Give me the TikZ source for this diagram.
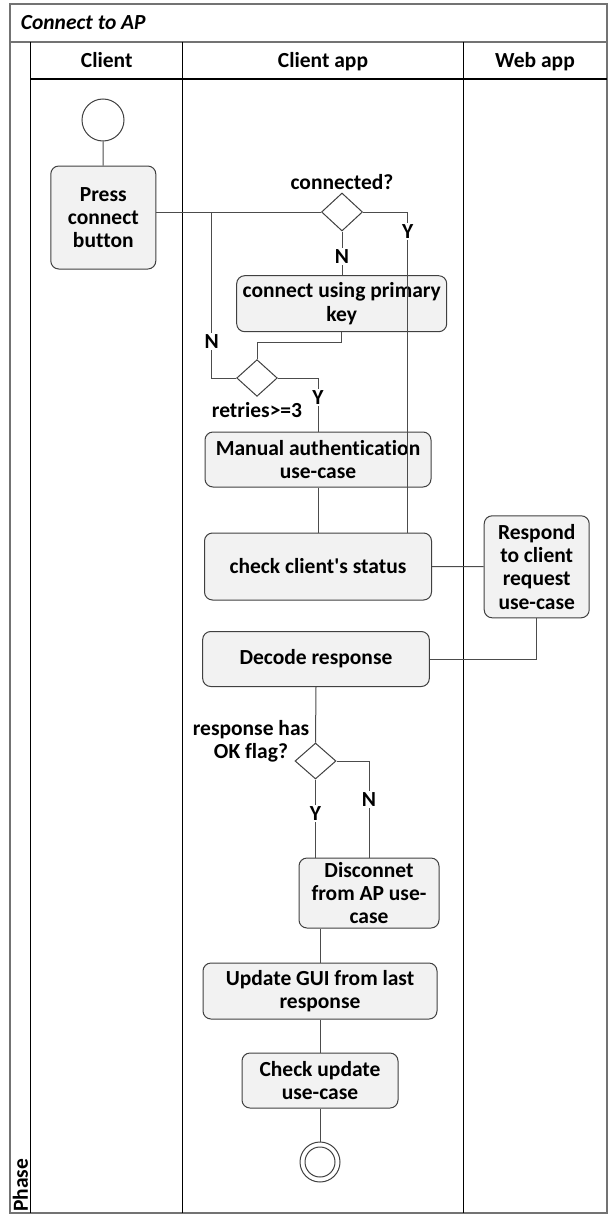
\documentclass[tikz,border=0pt]{standalone}
\usepackage{fontspec}
\setmainfont{Carlito}[Ligatures={NoCommon}]
\usepackage{tikz}
\usetikzlibrary{positioning,calc,shapes}

\begin{document}
\begin{tikzpicture}[x=1pt,y=-1pt,
  font=\fontsize{21.5}{23.3}\selectfont\bfseries,
  frame/.style={black!55, line width=1.5pt},
  lane/.style={black, line width=1.2pt},
  act/.style={draw=black!75, fill=black!5, rounded corners=8pt, line width=1pt, align=center, inner sep=0pt},
  dec/.style={draw=black!75, diamond, inner sep=0pt, minimum width=41pt, minimum height=38pt, line width=1pt},
  flow/.style={black!70, line width=1pt},
  guard/.style={fill=white, text=black, inner sep=1.5pt}]

  \useasboundingbox (0,0) rectangle (608,1215);

  % pool and lanes
  \draw[frame] (10,4) rectangle (607,1213);
  \draw[frame] (10,42) -- (607,42);
  \draw[lane] (30.7,79) -- (607,79);
  \foreach \x in {30.7,182.7,463.3}
    \draw[lane] (\x,42) -- (\x,1213);
  \node[anchor=base west, inner sep=0pt, font=\fontsize{21.5}{23.3}\selectfont\bfseries\itshape] (title) at (20.7,29.5) {Connect to AP};
  \node[anchor=base] (hclient) at (106.7,67.5) {Client};
  \node[anchor=base] (happ) at (323,67.5) {Client app};
  \node[anchor=base] (hweb) at (535,67.5) {Web app};
  \node[rotate=90, anchor=west, inner sep=0pt] (phase) at (20.5,1212) {Phase};

  % client lane
  \node[circle, draw=black!75, line width=1pt, minimum size=42pt, inner sep=0pt] (start) at (103,120) {};
  \node[act, minimum width=105pt, minimum height=103pt] (press) at (103.3,217.5) {Press\\connect\\button};

  % client app lane
  \node[dec] (d1) at (342,212) {};
  \node[anchor=base] (qconn) at (342,189) {connected?};
  \node[act, minimum width=210pt, minimum height=56pt] (conn) at (341.7,303.7) {connect using primary\\key};
  \node[dec, minimum width=40.6pt, minimum height=36.7pt] (d2) at (257,378) {};
  \node[anchor=base] (qretry) at (257,417) {retries>=3};
  \node[act, minimum width=226pt, minimum height=55pt] (manual) at (318,459.5) {Manual authentication\\use-case};
  \node[act, minimum width=227pt, minimum height=67pt] (check) at (318,566.5) {check client\textquotesingle s status};
  \node[act, minimum width=226.6pt, minimum height=55pt] (decode) at (316,659) {Decode response};
  \node[dec, minimum width=41pt, minimum height=36pt] (d3) at (315.5,761) {};
  \node[align=center] (qok) at (251,741) {response has\\OK flag?};
  \node[act, minimum width=140pt, minimum height=70pt] (disc) at (369,893) {Disconnet\\from AP use-\\case};
  \node[act, minimum width=234pt, minimum height=56pt] (update) at (320,991) {Update GUI from last\\response};
  \node[act, minimum width=156pt, minimum height=55pt] (chkupd) at (320,1080.5) {Check update\\use-case};
  \node[circle, draw=black!75, line width=1pt, minimum size=40pt, inner sep=0pt] (stop) at (320,1162) {};
  \draw[black!75, line width=1pt] (stop.center) circle (15pt);

  % web app lane
  \node[act, minimum width=105pt, minimum height=102pt] (respond) at (536.7,566.8) {Respond\\to client\\request\\use-case};

  % connectors
  \coordinate (j1) at (211.7,212);
  \draw[flow] (start) -- (press);
  \draw[flow] (press.east |- d1.west) -- (d1.west);
  \draw[flow] (j1) -- node[guard, pos=0.78] {N} (j1 |- d2.west) -- (d2.west);
  \draw[flow] (d1.south) -- node[guard, pos=0.58] {N} (d1.south |- conn.north);
  \draw[flow] (d1.east) -- ++(44.7,0) coordinate (c1) -- node[guard, pos=0.06] {Y} (c1 |- check.north);
  \draw[flow] (conn.south) -- ++(0,10) -| (d2.north);
  \draw[flow] (d2.east) -| node[guard, pos=0.685] {Y} (manual.north);
  \draw[flow] (manual) -- (check);
  \draw[flow] (check) -- (respond);
  \draw[flow] (respond.south) |- (decode.east);
  \draw[flow] (decode.south) -- (d3.north);
  \draw[flow] (d3.south) -- node[guard, pos=0.43] {Y} (d3.south |- disc.north);
  \draw[flow] (d3.east) -| node[guard, pos=0.70] {N} (disc.north);
  \draw[flow] (update.north |- disc.south) -- (update.north);
  \draw[flow] (update) -- (chkupd);
  \draw[flow] (chkupd) -- (stop);
\end{tikzpicture}
\end{document}
